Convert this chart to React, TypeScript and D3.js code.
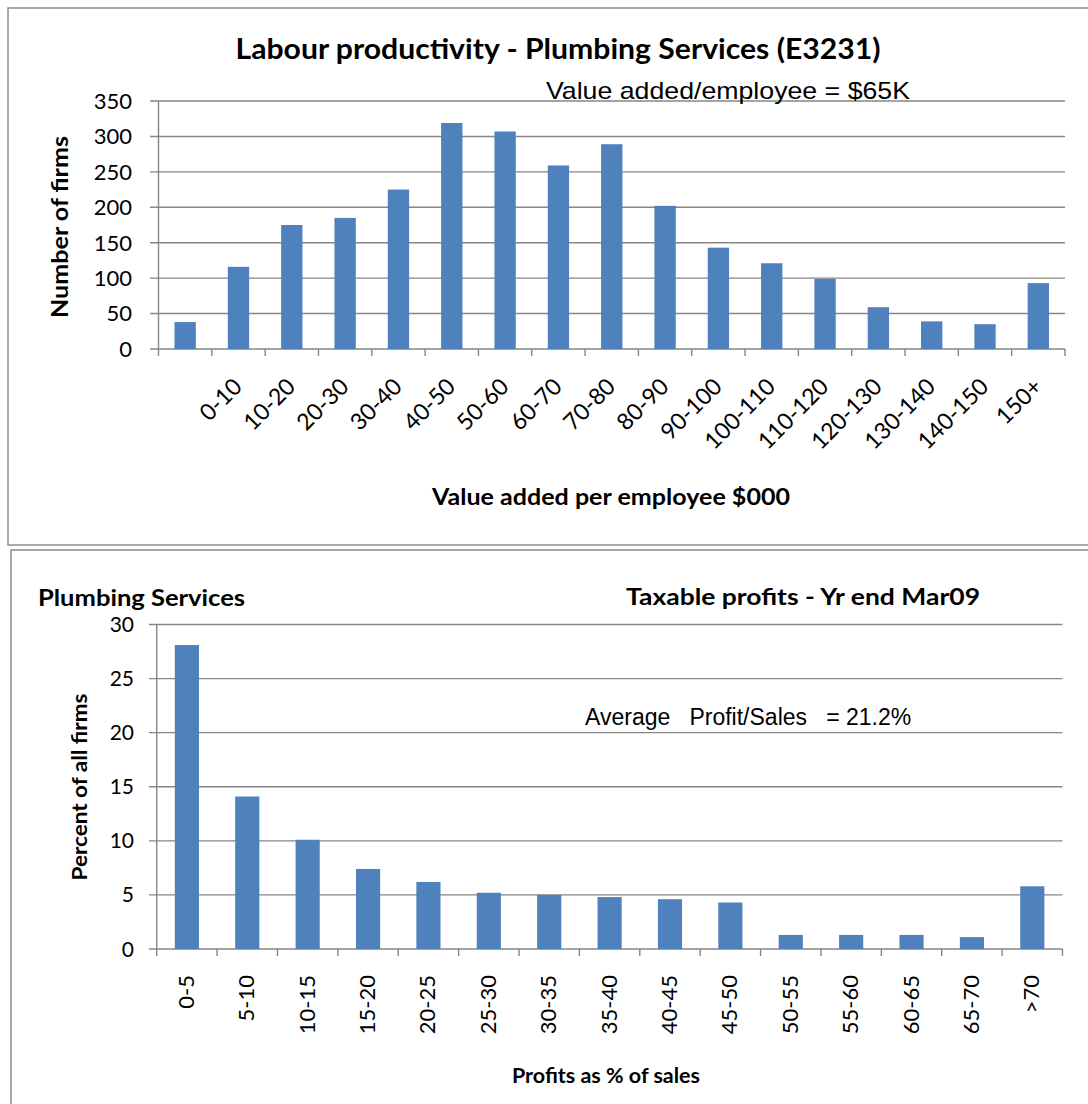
import React from "react";
import * as d3 from "d3";

// ---------- data ----------
const topCategories = ["", "0-10", "10-20", "20-30", "30-40", "40-50", "50-60", "60-70", "70-80", "80-90", "90-100", "100-110", "110-120", "120-130", "130-140", "140-150", "150+"];
const topValues = [38, 116, 175, 185, 225, 319, 307, 259, 289, 202, 143, 121, 99, 59, 39, 35, 93];
const topYTicks = [0, 50, 100, 150, 200, 250, 300, 350];

const bottomCategories = ["0-5", "5-10", "10-15", "15-20", "20-25", "25-30", "30-35", "35-40", "40-45", "45-50", "50-55", "55-60", "60-65", "65-70", ">70"];
const bottomValues = [28.1, 14.1, 10.1, 7.4, 6.2, 5.2, 5.0, 4.8, 4.6, 4.3, 1.3, 1.3, 1.3, 1.1, 5.8];
const bottomYTicks = [0, 5, 10, 15, 20, 25, 30];

// ---------- style ----------
const W = 1088;
const H = 1104;
const BAR = "#4F81BD";
const GRID = "#868686";
const BORDER = "#8c8c8c";
const CAL = "Lato, 'Open Sans', sans-serif";
const ARIAL = "'Liberation Sans', Arial, sans-serif";

function TopChart() {
  const x0 = 158.5, x1 = 1065;
  const x = d3.scaleBand<number>().domain(d3.range(topValues.length)).range([x0, x1]).paddingInner(0.6).paddingOuter(0.3);
  const y = d3.scaleLinear().domain([0, 350]).range([349, 101]);
  const step = x.step();
  const bw = x.bandwidth();
  return (
    <g>
      <rect x={8} y={8} width={1100} height={537} fill="#fff" stroke={BORDER} strokeWidth={1.5} />
      <text x={558} y={59} textAnchor="middle" fontFamily={CAL} fontWeight="bold" fontSize={28} textLength={645} lengthAdjust="spacingAndGlyphs">Labour productivity - Plumbing Services (E3231)</text>
      {topYTicks.map((t) => (
        <line key={"g" + t} x1={150} x2={x1} y1={y(t)} y2={y(t)} stroke={GRID} strokeWidth={1.4} />
      ))}
      {topValues.map((v, i) => (
        <rect key={"b" + i} x={x(i)!} y={y(v)} width={bw} height={y(0) - y(v)} fill={BAR} />
      ))}
      <line x1={x0} x2={x0} y1={y(350)} y2={y(0)} stroke={GRID} strokeWidth={1.4} />
      {d3.range(topValues.length + 1).map((i) => (
        <line key={"t" + i} x1={x0 + step * i} x2={x0 + step * i} y1={y(0)} y2={y(0) + 7} stroke={GRID} strokeWidth={1.4} />
      ))}
      {topYTicks.map((t) => (
        <text key={"yl" + t} x={132} y={y(t)} dy="0.36em" textAnchor="end" fontFamily={CAL} fontSize={22}>{t}</text>
      ))}
      {topCategories.map((c, i) =>
        c ? (
          <text key={"xl" + i} transform={`translate(${x(i)! + bw / 2 + 5},${388}) rotate(-45)`} textAnchor="end" fontFamily={CAL} fontSize={23}>{c}</text>
        ) : null
      )}
      <text x={546} y={99} fontFamily={ARIAL} fontSize={24} textLength={364} lengthAdjust="spacingAndGlyphs">Value added/employee = $65K</text>
      <text transform={`translate(68,227) rotate(-90)`} textAnchor="middle" fontFamily={CAL} fontWeight="bold" fontSize={23} textLength={182} lengthAdjust="spacingAndGlyphs">Number of firms</text>
      <text x={611} y={505} textAnchor="middle" fontFamily={CAL} fontWeight="bold" fontSize={22} textLength={358} lengthAdjust="spacingAndGlyphs">Value added per employee $000</text>
    </g>
  );
}

function BottomChart() {
  const x0 = 156.7, x1 = 1062.5;
  const x = d3.scaleBand<number>().domain(d3.range(bottomValues.length)).range([x0, x1]).paddingInner(0.6).paddingOuter(0.3);
  const y = d3.scaleLinear().domain([0, 30]).range([949, 624.5]);
  const step = x.step();
  const bw = x.bandwidth();
  return (
    <g>
      <rect x={11} y={550} width={1100} height={600} fill="#fff" stroke={BORDER} strokeWidth={1.5} />
      <text x={38} y={606} fontFamily={CAL} fontWeight="bold" fontSize={22} textLength={207} lengthAdjust="spacingAndGlyphs">Plumbing Services</text>
      <text x={626} y={605} fontFamily={CAL} fontWeight="bold" fontSize={22} textLength={354} lengthAdjust="spacingAndGlyphs">Taxable profits - Yr end Mar09</text>
      {bottomYTicks.map((t) => (
        <line key={"g" + t} x1={149} x2={x1} y1={y(t)} y2={y(t)} stroke={GRID} strokeWidth={1.4} />
      ))}
      {bottomValues.map((v, i) => (
        <rect key={"b" + i} x={x(i)!} y={y(v)} width={bw} height={y(0) - y(v)} fill={BAR} />
      ))}
      <line x1={x0} x2={x0} y1={y(30)} y2={y(0)} stroke={GRID} strokeWidth={1.4} />
      {d3.range(bottomValues.length + 1).map((i) => (
        <line key={"t" + i} x1={x0 + step * i} x2={x0 + step * i} y1={y(0)} y2={y(0) + 7} stroke={GRID} strokeWidth={1.4} />
      ))}
      {bottomYTicks.map((t) => (
        <text key={"yl" + t} x={134} y={y(t)} dy="0.36em" textAnchor="end" fontFamily={CAL} fontSize={21}>{t}</text>
      ))}
      {bottomCategories.map((c, i) => (
        <text key={"xl" + i} transform={`translate(${x(i)! + bw / 2 + 7},${975}) rotate(-90)`} textAnchor="end" fontFamily={CAL} fontSize={22}>{c}</text>
      ))}
      <text x={585} y={725} fontFamily={ARIAL} fontSize={23} xmlSpace="preserve" style={{ whiteSpace: "pre" }}>{"Average   Profit/Sales   = 21.2%"}</text>
      <text transform={`translate(87,787) rotate(-90)`} textAnchor="middle" fontFamily={CAL} fontWeight="bold" fontSize={20} textLength={187} lengthAdjust="spacingAndGlyphs">Percent of all firms</text>
      <text x={606} y={1083} textAnchor="middle" fontFamily={CAL} fontWeight="bold" fontSize={20} textLength={188} lengthAdjust="spacingAndGlyphs">Profits as % of sales</text>
    </g>
  );
}

export default function App() {
  return (
    <svg width={W} height={H} viewBox={`0 0 ${W} ${H}`} style={{ position: "absolute", left: 0, top: 0, background: "#fff" }}>
      <rect x={0} y={0} width={W} height={H} fill="#fff" />
      <TopChart />
      <BottomChart />
    </svg>
  );
}
